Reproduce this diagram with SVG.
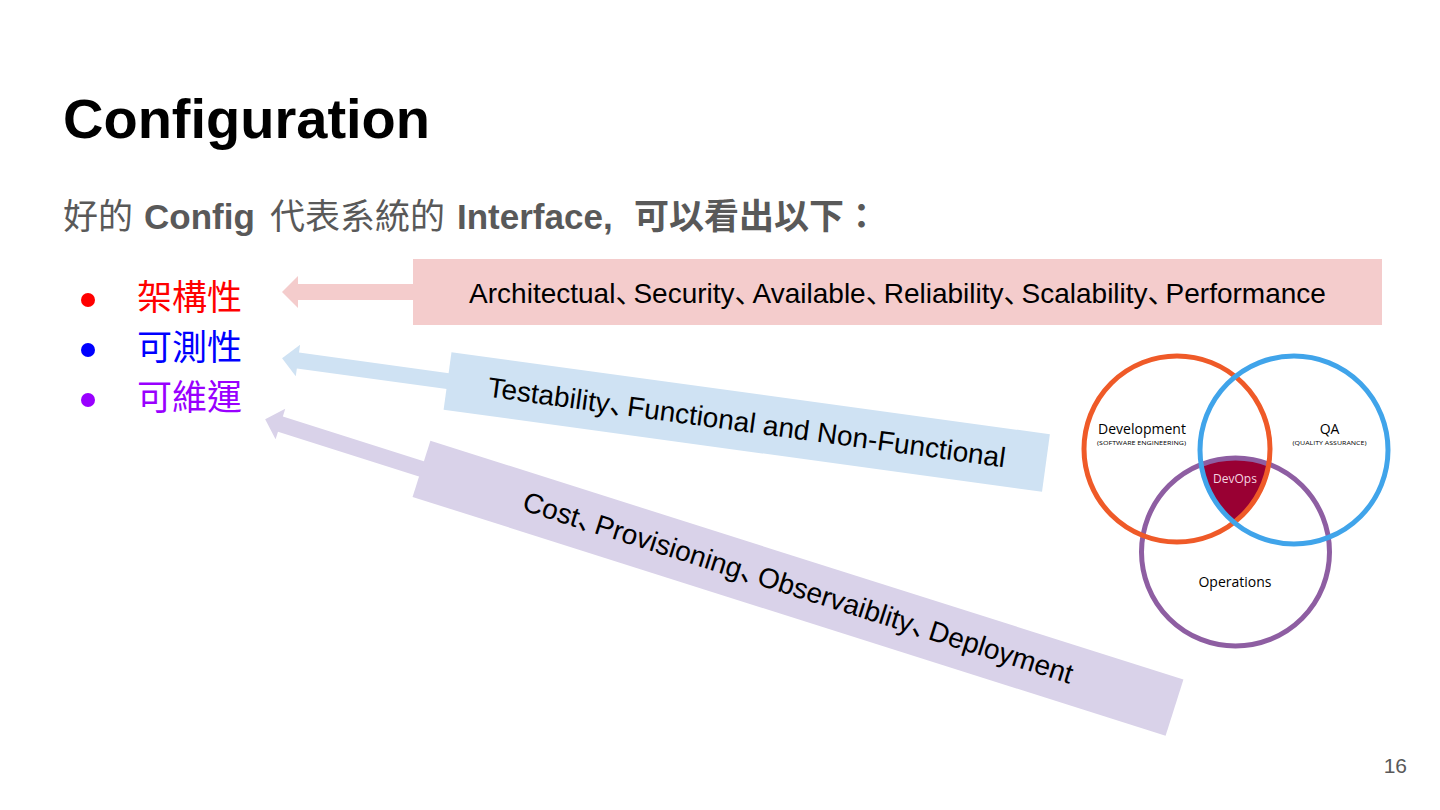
<svg xmlns="http://www.w3.org/2000/svg" width="1440" height="810" viewBox="0 0 1440 810">
<defs>
<style>
.lat{font-family:"Liberation Sans","Noto Sans CJK SC",Arial,sans-serif;}
.cjk{font-family:"Noto Sans CJK TC","Liberation Sans",sans-serif;}
.bt{font-size:28px;fill:#000;}
.ven{font-family:"Open Sans","Noto Sans",sans-serif;fill:#000;text-anchor:middle;}
.circ{fill:none;stroke-width:5;}
</style>
<clipPath id="clipDev"><circle cx="1177" cy="449" r="93"/></clipPath>
<clipPath id="clipQA"><circle cx="1294" cy="450" r="94"/></clipPath>
</defs>
<rect width="1440" height="810" fill="#fff"/>

<g id="title"><text x="63" y="138" class="lat" font-size="56" font-weight="bold" fill="#000">Configuration</text></g>

<g id="subtitle" fill="#595959" font-size="35">
<text x="63" y="229" class="cjk">好的</text>
<text x="144" y="229" class="lat" font-weight="bold">Config</text>
<text x="270" y="229" class="cjk">代表系統的</text>
<text x="457" y="229" class="lat" font-weight="bold">Interface,</text>
<text x="634" y="229" class="cjk" font-weight="bold">可以看出以下：</text>
</g>

<g id="bullet-arch"><circle cx="88" cy="300" r="7" fill="#ff0000"/><text x="137" y="310" class="cjk" font-size="35" fill="#ff0000">架構性</text></g>
<g id="bullet-test"><circle cx="88" cy="350" r="7" fill="#0000ff"/><text x="137" y="360" class="cjk" font-size="35" fill="#0000ff">可測性</text></g>
<g id="bullet-ops"><circle cx="88" cy="400" r="7" fill="#9900ff"/><text x="137" y="410" class="cjk" font-size="35" fill="#9900ff">可維運</text></g>

<g id="connectors">
<path d="M416,284 L298,284 L298,276 L282,292 L298,308 L298,300 L416,300 Z" fill="#f4cccc"/>
<g transform="translate(746.75,422) rotate(7.8)"><path d="M-298,-8 L-453,-8 L-453,-16 L-469,0 L-453,16 L-453,8 L-298,8 Z" fill="#cfe2f3"/></g>
<g transform="translate(798,588.25) rotate(17.6)"><path d="M-391,-8 L-543,-8 L-543,-16 L-559,0 L-543,16 L-543,8 L-391,8 Z" fill="#d9d2e9"/></g>
</g>

<g id="box-arch">
<rect x="413" y="259" width="969" height="66" fill="#f4cccc"/>
<text x="897.5" y="303" class="lat bt" text-anchor="middle">Architectual、<tspan dx="-10">Security、</tspan><tspan dx="-10">Available、</tspan><tspan dx="-10">Reliability、</tspan><tspan dx="-10">Scalability、</tspan><tspan dx="-10">Performance</tspan></text>
</g>

<g id="box-test" transform="translate(746.75,422) rotate(7.8)">
<rect x="-302" y="-29" width="604" height="58" fill="#cfe2f3"/>
<text x="0" y="10" class="lat bt" text-anchor="middle">Testability、<tspan dx="-10">Functional and Non-Functional</tspan></text>
</g>

<g id="box-ops" transform="translate(798,588.25) rotate(17.6)">
<rect x="-395" y="-29.5" width="790" height="59" fill="#d9d2e9"/>
<text x="0" y="9" class="lat bt" text-anchor="middle">Cost、<tspan dx="-10">Provisioning、</tspan><tspan dx="-10">Observaiblity、</tspan><tspan dx="-10">Deployment</tspan></text>
</g>

<g id="venn">
<g id="devops-area" clip-path="url(#clipQA)"><circle cx="1235.5" cy="552" r="94" fill="#990033" clip-path="url(#clipDev)"/></g>
<g id="ops"><circle cx="1235.5" cy="552" r="94" class="circ" stroke="#8e5ea2"/><text x="1235" y="587" class="ven" font-size="14">Operations</text></g>
<g id="dev"><circle cx="1177" cy="449" r="93" class="circ" stroke="#ef5a28"/><text x="1142" y="434" class="ven" font-size="14">Development</text><text x="1141.5" y="445" class="ven" font-size="6" textLength="89" lengthAdjust="spacingAndGlyphs">(SOFTWARE ENGINEERING)</text></g>
<g id="qa"><circle cx="1294" cy="450" r="94" class="circ" stroke="#40a4ea"/><text x="1329.5" y="434" class="ven" font-size="14">QA</text><text x="1329.5" y="445" class="ven" font-size="6" textLength="74" lengthAdjust="spacingAndGlyphs">(QUALITY ASSURANCE)</text></g>
<g id="devops"><text x="1235" y="483" class="ven" font-size="12" style="fill:#f4d6e0">DevOps</text></g>
</g>

<g id="page-number"><text x="1407" y="773" class="lat" font-size="21" fill="#595959" text-anchor="end">16</text></g>
</svg>
